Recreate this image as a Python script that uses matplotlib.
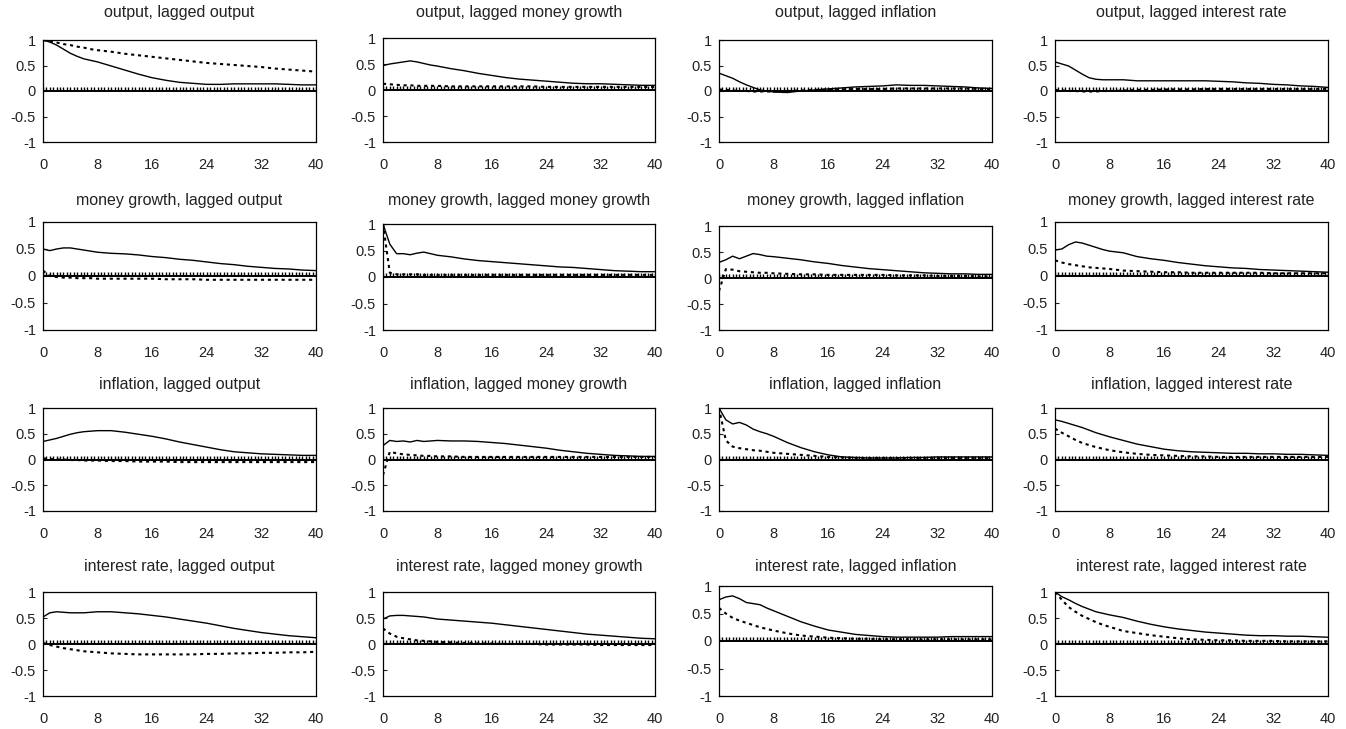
import numpy as np
import matplotlib
matplotlib.use("Agg")
import matplotlib.pyplot as plt

plt.rcParams['font.family'] = ['Liberation Sans', 'DejaVu Sans']

# variables and lag grid
variables = ['output', 'money growth', 'inflation', 'interest rate']
lags = [0, 1, 2, 3, 4, 5, 6, 7, 8, 10, 12, 14, 16, 18, 20, 22, 24, 26, 28, 30, 32, 34, 36, 38, 40]
marks = [i * 0.5 for i in range(81)]  # short hatch marks on the zero line

# solid = model correlation, dotted = data correlation (row = variable, col = lagged variable)
solid = {
    (0, 0): [1.0, 0.96, 0.9, 0.82, 0.74, 0.68, 0.63, 0.6, 0.57, 0.49, 0.41, 0.33, 0.26, 0.21, 0.17, 0.15, 0.13, 0.13, 0.14, 0.14, 0.14, 0.14, 0.13, 0.12, 0.12],
    (0, 1): [0.47, 0.5, 0.52, 0.54, 0.56, 0.54, 0.51, 0.48, 0.46, 0.41, 0.37, 0.32, 0.28, 0.24, 0.21, 0.19, 0.17, 0.15, 0.13, 0.12, 0.12, 0.11, 0.1, 0.09, 0.09],
    (0, 2): [0.35, 0.3, 0.25, 0.18, 0.12, 0.07, 0.02, 0.0, -0.02, -0.03, 0.0, 0.02, 0.04, 0.06, 0.08, 0.09, 0.1, 0.12, 0.11, 0.11, 0.1, 0.09, 0.08, 0.06, 0.05],
    (0, 3): [0.57, 0.53, 0.49, 0.41, 0.33, 0.26, 0.23, 0.22, 0.22, 0.22, 0.2, 0.2, 0.2, 0.2, 0.2, 0.2, 0.19, 0.18, 0.16, 0.15, 0.13, 0.12, 0.1, 0.09, 0.07],
    (1, 0): [0.5, 0.47, 0.5, 0.52, 0.52, 0.5, 0.48, 0.46, 0.44, 0.42, 0.41, 0.39, 0.36, 0.34, 0.31, 0.29, 0.26, 0.23, 0.21, 0.18, 0.16, 0.14, 0.13, 0.11, 0.1],
    (1, 1): [1.0, 0.62, 0.44, 0.44, 0.42, 0.45, 0.47, 0.44, 0.41, 0.38, 0.34, 0.31, 0.29, 0.27, 0.25, 0.23, 0.21, 0.19, 0.18, 0.16, 0.14, 0.12, 0.11, 0.1, 0.1],
    (1, 2): [0.3, 0.35, 0.42, 0.37, 0.42, 0.47, 0.45, 0.42, 0.41, 0.38, 0.35, 0.31, 0.28, 0.24, 0.21, 0.18, 0.16, 0.14, 0.12, 0.1, 0.09, 0.08, 0.08, 0.07, 0.07],
    (1, 3): [0.48, 0.5, 0.58, 0.63, 0.61, 0.57, 0.53, 0.49, 0.46, 0.43, 0.36, 0.32, 0.29, 0.25, 0.22, 0.19, 0.17, 0.15, 0.14, 0.12, 0.11, 0.1, 0.09, 0.08, 0.07],
    (2, 0): [0.35, 0.38, 0.41, 0.45, 0.49, 0.52, 0.54, 0.55, 0.56, 0.56, 0.53, 0.49, 0.45, 0.4, 0.34, 0.29, 0.24, 0.19, 0.15, 0.13, 0.11, 0.1, 0.09, 0.08, 0.08],
    (2, 1): [0.27, 0.37, 0.35, 0.36, 0.34, 0.37, 0.35, 0.36, 0.37, 0.36, 0.36, 0.35, 0.33, 0.31, 0.28, 0.25, 0.22, 0.18, 0.15, 0.12, 0.1, 0.08, 0.07, 0.06, 0.06],
    (2, 2): [1.0, 0.77, 0.69, 0.72, 0.67, 0.59, 0.54, 0.5, 0.45, 0.33, 0.23, 0.15, 0.09, 0.05, 0.04, 0.03, 0.03, 0.03, 0.04, 0.04, 0.05, 0.05, 0.05, 0.05, 0.05],
    (2, 3): [0.77, 0.74, 0.7, 0.66, 0.62, 0.57, 0.52, 0.48, 0.44, 0.37, 0.3, 0.25, 0.2, 0.17, 0.15, 0.14, 0.13, 0.12, 0.12, 0.11, 0.11, 0.1, 0.1, 0.09, 0.08],
    (3, 0): [0.52, 0.6, 0.62, 0.61, 0.6, 0.6, 0.6, 0.61, 0.62, 0.62, 0.6, 0.58, 0.55, 0.52, 0.48, 0.44, 0.4, 0.35, 0.3, 0.26, 0.22, 0.19, 0.16, 0.14, 0.12],
    (3, 1): [0.48, 0.54, 0.55, 0.55, 0.54, 0.53, 0.52, 0.5, 0.48, 0.46, 0.44, 0.42, 0.4, 0.37, 0.34, 0.31, 0.28, 0.25, 0.22, 0.19, 0.17, 0.15, 0.13, 0.11, 0.1],
    (3, 2): [0.75, 0.8, 0.82, 0.77, 0.7, 0.68, 0.66, 0.6, 0.55, 0.45, 0.35, 0.27, 0.2, 0.16, 0.12, 0.1, 0.08, 0.07, 0.07, 0.07, 0.07, 0.08, 0.08, 0.08, 0.08],
    (3, 3): [1.0, 0.91, 0.85, 0.78, 0.72, 0.67, 0.62, 0.59, 0.56, 0.51, 0.44, 0.38, 0.33, 0.29, 0.26, 0.23, 0.21, 0.19, 0.17, 0.16, 0.16, 0.15, 0.15, 0.14, 0.13],
}
dotted = {
    (0, 0): [1.0, 0.97, 0.95, 0.92, 0.9, 0.87, 0.85, 0.82, 0.8, 0.77, 0.73, 0.7, 0.67, 0.64, 0.61, 0.58, 0.55, 0.53, 0.51, 0.49, 0.47, 0.44, 0.42, 0.4, 0.38],
    (0, 1): [0.12, 0.11, 0.1, 0.09, 0.09, 0.08, 0.08, 0.08, 0.08, 0.07, 0.07, 0.07, 0.07, 0.07, 0.07, 0.07, 0.06, 0.06, 0.06, 0.06, 0.06, 0.06, 0.06, 0.06, 0.06],
    (0, 2): [0.03, 0.02, 0.01, 0.0, 0.0, -0.01, -0.01, -0.01, -0.01, 0.0, 0.01, 0.02, 0.03, 0.03, 0.04, 0.04, 0.04, 0.05, 0.05, 0.05, 0.05, 0.05, 0.05, 0.04, 0.04],
    (0, 3): [0.02, 0.01, 0.0, 0.0, -0.01, -0.01, -0.01, 0.0, 0.0, 0.01, 0.02, 0.02, 0.03, 0.03, 0.03, 0.04, 0.04, 0.04, 0.04, 0.04, 0.04, 0.04, 0.04, 0.04, 0.04],
    (1, 0): [0.1, 0.0, -0.02, -0.03, -0.03, -0.04, -0.04, -0.04, -0.05, -0.05, -0.05, -0.05, -0.05, -0.06, -0.06, -0.06, -0.07, -0.07, -0.07, -0.07, -0.07, -0.07, -0.07, -0.07, -0.07],
    (1, 1): [1.0, 0.08, 0.05, 0.05, 0.05, 0.05, 0.04, 0.04, 0.04, 0.04, 0.04, 0.04, 0.04, 0.04, 0.04, 0.04, 0.04, 0.04, 0.04, 0.04, 0.04, 0.04, 0.04, 0.04, 0.04],
    (1, 2): [-0.25, 0.17, 0.16, 0.13, 0.12, 0.11, 0.1, 0.1, 0.09, 0.08, 0.07, 0.07, 0.06, 0.06, 0.06, 0.06, 0.06, 0.05, 0.05, 0.05, 0.04, 0.04, 0.04, 0.03, 0.03],
    (1, 3): [0.29, 0.25, 0.22, 0.2, 0.18, 0.16, 0.15, 0.14, 0.13, 0.1, 0.09, 0.08, 0.07, 0.07, 0.06, 0.06, 0.06, 0.06, 0.06, 0.06, 0.05, 0.05, 0.05, 0.05, 0.05],
    (2, 0): [0.02, 0.01, 0.0, 0.0, -0.01, -0.01, -0.02, -0.02, -0.02, -0.03, -0.03, -0.04, -0.04, -0.04, -0.05, -0.05, -0.05, -0.05, -0.05, -0.05, -0.05, -0.05, -0.05, -0.05, -0.05],
    (2, 1): [-0.3, 0.15, 0.12, 0.1, 0.09, 0.08, 0.07, 0.07, 0.06, 0.06, 0.05, 0.05, 0.05, 0.05, 0.05, 0.05, 0.05, 0.05, 0.05, 0.05, 0.05, 0.05, 0.05, 0.05, 0.05],
    (2, 2): [1.0, 0.37, 0.25, 0.22, 0.2, 0.18, 0.17, 0.15, 0.13, 0.11, 0.09, 0.07, 0.05, 0.04, 0.03, 0.03, 0.03, 0.03, 0.03, 0.03, 0.03, 0.03, 0.03, 0.03, 0.03],
    (2, 3): [0.6, 0.52, 0.45, 0.38, 0.32, 0.28, 0.24, 0.21, 0.18, 0.14, 0.11, 0.09, 0.08, 0.07, 0.06, 0.06, 0.05, 0.05, 0.05, 0.05, 0.05, 0.05, 0.05, 0.05, 0.05],
    (3, 0): [0.02, -0.02, -0.05, -0.08, -0.1, -0.12, -0.14, -0.15, -0.16, -0.18, -0.19, -0.2, -0.2, -0.2, -0.2, -0.2, -0.19, -0.19, -0.18, -0.18, -0.17, -0.17, -0.16, -0.16, -0.15],
    (3, 1): [0.3, 0.2, 0.14, 0.11, 0.09, 0.07, 0.06, 0.05, 0.04, 0.03, 0.02, 0.01, 0.01, 0.0, 0.0, 0.0, -0.01, -0.01, -0.01, -0.01, -0.02, -0.02, -0.02, -0.02, -0.02],
    (3, 2): [0.6, 0.5, 0.42, 0.37, 0.33, 0.29, 0.25, 0.22, 0.19, 0.14, 0.1, 0.08, 0.06, 0.05, 0.04, 0.04, 0.03, 0.03, 0.03, 0.03, 0.03, 0.03, 0.03, 0.03, 0.03],
    (3, 3): [1.0, 0.85, 0.71, 0.62, 0.54, 0.48, 0.42, 0.37, 0.33, 0.25, 0.21, 0.17, 0.14, 0.11, 0.09, 0.08, 0.07, 0.07, 0.06, 0.06, 0.06, 0.05, 0.05, 0.05, 0.05],
}

W, H = 1346, 729
fig = plt.figure(figsize=(W / 100, H / 100), dpi=100)

col_x = [(43, 316), (383, 655), (719, 992), (1055, 1328)]
row_y = [(40, 142), (222, 330), (408, 511), (592, 696)]
title_y = [13, 200, 384, 567]
# a few panels sit slightly higher in the reference
top_fix = {(0, 1): 38, (1, 1): 224, (1, 2): 226, (3, 2): 586}

for r in range(4):
    for c in range(4):
        x0, x1 = col_x[c]
        y0, y1 = row_y[r]
        y0 = top_fix.get((r, c), y0)
        ax = fig.add_axes([x0 / W, 1 - y1 / H, (x1 - x0) / W, (y1 - y0) / H])
        ax.plot(lags, solid[(r, c)], color='black', lw=1.0)
        ax.plot(lags, dotted[(r, c)], color='black', lw=1.5, linestyle=(0, (1.5, 1.8)))
        ax.axhline(0, color='black', lw=1.4)
        ax.vlines(marks, 0, 0.07, color='black', lw=1.0)
        ax.set_xlim(0, 40)
        ax.set_ylim(-1, 1)
        ax.set_xticks([0, 8, 16, 24, 32, 40])
        ax.set_yticks([-1, -0.5, 0, 0.5, 1])
        ax.set_yticklabels(['-1', '-0.5', '0', '0.5', '1'])
        ax.tick_params(axis='x', length=0, pad=11.5, labelsize=10.5, colors='#222222')
        ax.tick_params(axis='y', direction='in', length=3, pad=5, labelsize=10.5, colors='#222222')
        for s in ax.spines.values():
            s.set_linewidth(0.9)
        fig.text((x0 + x1) / 2 / W, 1 - title_y[r] / H, f'{variables[r]}, lagged {variables[c]}',
                 ha='center', va='center', fontsize=11.5, color='#222222')

fig.savefig('out.png', dpi=100)
